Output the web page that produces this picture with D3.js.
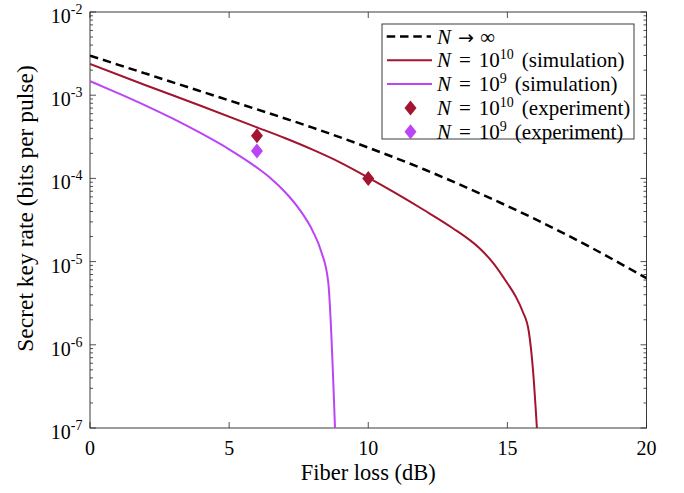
<!DOCTYPE html>
<html>
<head>
<meta charset="utf-8">
<script src="https://cdn.jsdelivr.net/npm/d3@7"></script>
<style>
  body { margin: 0; background: #fff; }
</style>
</head>
<body>
<svg id="chart" width="684" height="493"></svg>
<script>
// fiber loss (dB) vs log10(secret key rate)
const infLoss   = [0, 2, 4, 6, 8, 10, 12, 14, 16, 18, 20];
const infLogKey = [-2.525, -2.74, -2.955, -3.17, -3.39, -3.63, -3.89, -4.18, -4.49, -4.83, -5.2];

const n10Loss   = [0, 2, 4, 6, 7, 8, 9, 10, 11, 12, 13, 14, 14.5, 15, 15.3, 15.55, 15.77, 15.92, 16.07];
const n10LogKey = [-2.625, -2.88, -3.13, -3.386, -3.515, -3.655, -3.81, -3.99, -4.18, -4.38, -4.59, -4.84, -5.02, -5.26, -5.42, -5.6, -5.84, -6.3, -7.05];

const n9Loss    = [0, 1, 2, 3, 4, 5, 6, 6.5, 7, 7.5, 8, 8.3, 8.56, 8.81];
const n9LogKey  = [-2.83, -2.975, -3.125, -3.285, -3.46, -3.65, -3.87, -4.0, -4.16, -4.36, -4.63, -4.87, -5.24, -7.05];

const expLoss = [6, 10];
const expN10  = [3.26e-4, 1.0e-4];
const expN9Loss = [6];
const expN9   = [2.14e-4];

const xTicks = [0, 5, 10, 15, 20];
const yTickExp = [-2, -3, -4, -5, -6, -7];

const RED = "#a2142f", PURPLE = "#bb44f5";
const SERIF = "'Liberation Serif', 'Times New Roman', serif";

const svg = d3.select("#chart").attr("font-family", SERIF);
const m = { left: 90, right: 646.5, top: 12, bottom: 428 };

const x = d3.scaleLinear().domain([0, 20]).range([m.left, m.right]);
const y = d3.scaleLog().domain([1e-7, 1e-2]).range([m.bottom, m.top]);

svg.append("defs").append("clipPath").attr("id", "clip")
    .append("rect")
    .attr("x", m.left).attr("y", m.top)
    .attr("width", m.right - m.left).attr("height", m.bottom - m.top);

// minor / major ticks on y (inside, both sides)
const minorVals = [];
for (let e = -7; e < -2; e++) {
    for (let k = 2; k <= 9; k++) minorVals.push(k * Math.pow(10, e));
}
const axisColor = "#262626";
const gTicks = svg.append("g").attr("stroke", axisColor).attr("stroke-width", 0.8);
minorVals.forEach(v => {
    gTicks.append("line").attr("x1", m.left).attr("x2", m.left + 3).attr("y1", y(v)).attr("y2", y(v));
    gTicks.append("line").attr("x1", m.right).attr("x2", m.right - 3).attr("y1", y(v)).attr("y2", y(v));
});
yTickExp.forEach(e => {
    const v = Math.pow(10, e);
    gTicks.append("line").attr("x1", m.left).attr("x2", m.left + 6).attr("y1", y(v)).attr("y2", y(v));
    gTicks.append("line").attr("x1", m.right).attr("x2", m.right - 6).attr("y1", y(v)).attr("y2", y(v));
});
xTicks.forEach(t => {
    gTicks.append("line").attr("x1", x(t)).attr("x2", x(t)).attr("y1", m.bottom).attr("y2", m.bottom - 6);
    gTicks.append("line").attr("x1", x(t)).attr("x2", x(t)).attr("y1", m.top).attr("y2", m.top + 6);
});

// box
svg.append("rect")
    .attr("x", m.left).attr("y", m.top)
    .attr("width", m.right - m.left).attr("height", m.bottom - m.top)
    .attr("fill", "none").attr("stroke", axisColor).attr("stroke-width", 0.9);

// x tick labels
svg.append("g").selectAll("text").data(xTicks).enter().append("text")
    .attr("x", d => x(d)).attr("y", m.bottom + 27)
    .attr("text-anchor", "middle").attr("font-size", 20)
    .text(d => d);

// y tick labels 10^e
yTickExp.forEach(e => {
    const t = svg.append("text")
        .attr("x", 82.5).attr("y", y(Math.pow(10, e)) + 11)
        .attr("text-anchor", "end").attr("font-size", 20);
    t.append("tspan").text("10");
    t.append("tspan").attr("dy", -9).attr("font-size", 14).text(String(e));
});

// axis labels
svg.append("text")
    .attr("x", (m.left + m.right) / 2).attr("y", 480)
    .attr("text-anchor", "middle").attr("font-size", 22.5)
    .text("Fiber loss (dB)");
svg.append("text")
    .attr("transform", "translate(33,208.5) rotate(-90)")
    .attr("text-anchor", "middle").attr("font-size", 23.5)
    .text("Secret key rate (bits per pulse)");

// curves
const line = d3.line().curve(d3.curveMonotoneX)
    .x(d => x(d[0])).y(d => y(Math.pow(10, d[1])));
const gPlot = svg.append("g").attr("clip-path", "url(#clip)");

gPlot.append("path").datum(d3.zip(n9Loss, n9LogKey))
    .attr("d", line).attr("fill", "none").attr("stroke", PURPLE).attr("stroke-width", 2);
gPlot.append("path").datum(d3.zip(n10Loss, n10LogKey))
    .attr("d", line).attr("fill", "none").attr("stroke", RED).attr("stroke-width", 2);
gPlot.append("path").datum(d3.zip(infLoss, infLogKey))
    .attr("d", line).attr("fill", "none").attr("stroke", "#000").attr("stroke-width", 2.5)
    .attr("stroke-dasharray", "8.5,5");

// experiment points
const diamond = (cx, cy) => `M${cx},${cy - 7.5}L${cx + 6},${cy}L${cx},${cy + 7.5}L${cx - 6},${cy}Z`;
gPlot.append("g").selectAll("path").data(d3.zip(expLoss, expN10)).enter().append("path")
    .attr("d", d => diamond(x(d[0]), y(d[1]))).attr("fill", RED);
gPlot.append("g").selectAll("path").data(d3.zip(expN9Loss, expN9)).enter().append("path")
    .attr("d", d => diamond(x(d[0]), y(d[1]))).attr("fill", PURPLE);

// legend
const lg = svg.append("g");
lg.append("rect").attr("x", 382).attr("y", 24).attr("width", 252).attr("height", 115)
    .attr("fill", "#fff").attr("stroke", axisColor).attr("stroke-width", 0.9);

// parts: [text, kind, dx]
const legendRows = [
    { kind: "dash", color: "#000", parts: [["N", "i"], ["\u2192", "a", 7], ["\u221E", "", 6]] },
    { kind: "line", color: RED, parts: [["N", "i"], ["=", "", 8], ["10", "", 8], ["10", "s"], ["(simulation)", "", 8]] },
    { kind: "line", color: PURPLE, parts: [["N", "i"], ["=", "", 8], ["10", "", 8], ["9", "s"], ["(simulation)", "", 8]] },
    { kind: "dot", color: RED, parts: [["N", "i"], ["=", "", 8], ["10", "", 8], ["10", "s"], ["(experiment)", "", 8]] },
    { kind: "dot", color: PURPLE, parts: [["N", "i"], ["=", "", 8], ["10", "", 8], ["9", "s"], ["(experiment)", "", 8]] }
];
legendRows.forEach((r, i) => {
    const cy = 36.5 + i * 23.8;
    if (r.kind === "dash") {
        lg.append("line").attr("x1", 386.7).attr("x2", 431).attr("y1", cy).attr("y2", cy)
            .attr("stroke", r.color).attr("stroke-width", 2.5).attr("stroke-dasharray", "8.5,4.8");
    } else if (r.kind === "line") {
        lg.append("line").attr("x1", 387).attr("x2", 432).attr("y1", cy).attr("y2", cy)
            .attr("stroke", r.color).attr("stroke-width", 2);
    } else {
        lg.append("path").attr("d", diamond(410.5, cy)).attr("fill", r.color);
    }
    const t = lg.append("text").attr("x", 437).attr("y", cy + 7).attr("font-size", 21);
    let sup = false;
    r.parts.forEach(p => {
        const ts = t.append("tspan").text(p[0]);
        if (p[2]) ts.attr("dx", p[2]);
        if (p[1] === "i") ts.attr("font-style", "italic");
        if (p[1] === "a") ts.attr("font-family", "'DejaVu Sans', sans-serif").attr("font-size", 19);
        if (p[1] === "s") { ts.attr("dy", -8).attr("font-size", 14); sup = true; }
        else if (sup) { ts.attr("dy", 8); sup = false; }
    });
});
</script>
</body>
</html>
